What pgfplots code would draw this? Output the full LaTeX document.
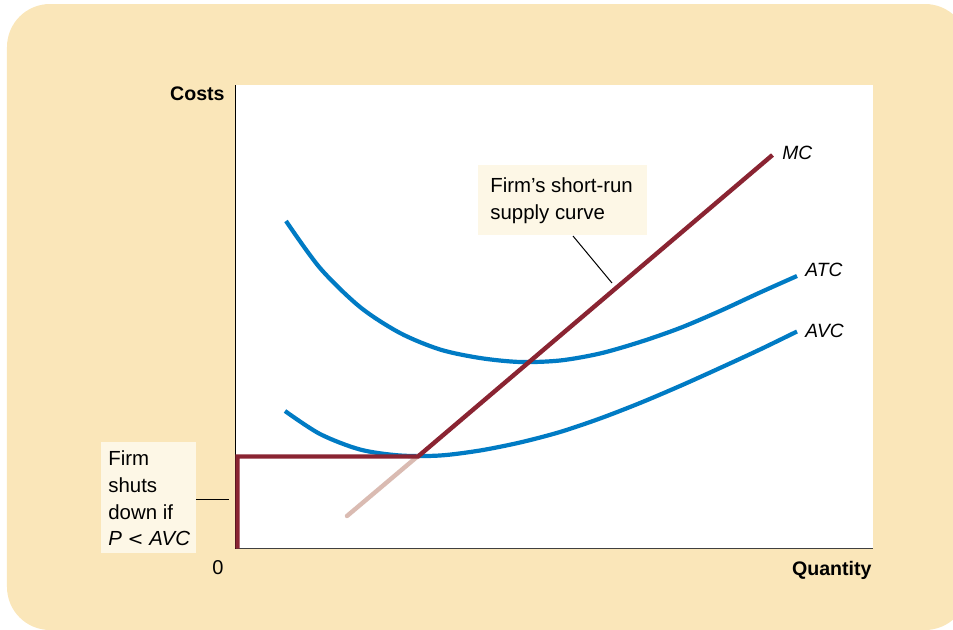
\documentclass[border=0pt]{standalone}
\usepackage{pgfplots}
\pgfplotsset{compat=1.18}
\usepackage{fontspec}
\setmainfont{Liberation Sans}
\definecolor{bgtan}{RGB}{250,230,185}
\definecolor{cream}{RGB}{253,247,230}
\definecolor{curveblue}{RGB}{0,123,196}
\definecolor{supred}{RGB}{138,36,50}
\definecolor{lightpink}{RGB}{218,187,178}
\begin{document}
\begin{tikzpicture}
\begin{axis}[
  set layers,
  x=0.5pt, y=0.5pt,
  xmin=235.5, xmax=872.5, ymin=80.5, ymax=544,
  axis x line*=bottom, axis y line*=left,
  axis line style={-, line width=0.6pt},
  x axis line style={black!75},
  y axis line style={black},
  xtick=\empty, ytick=\empty,
  clip=false,
]
\begin{pgfonlayer}{axis background}
  \begin{scope}
    \clip (axis cs:0,0) rectangle (axis cs:953,629);
    \fill[bgtan, rounded corners=21.5pt] (axis cs:7,-1) rectangle (axis cs:968,625);
  \end{scope}
  \fill[white] (axis cs:235.5,80.5) rectangle (axis cs:872.5,544);
\end{pgfonlayer}
\coordinate (BL) at (axis cs:0,0);
\coordinate (TR) at (axis cs:953,629);

% ATC
\addplot[curveblue, line width=2.1pt, smooth, tension=0.5] coordinates {
(286,408)(320,361)(360,322)(400,296)(440,279.5)(480,271)(520,267)(560,268.5)
(600,275.5)(640,287)(680,301)(720,318)(760,336.5)(797,353)};
% AVC
\addplot[curveblue, line width=2.1pt, smooth, tension=0.5] coordinates {
(285,218)(320,195)(360,179.5)(400,173.5)(440,173.5)(480,178.5)(520,186.5)(560,197)
(600,210.5)(640,226)(680,243)(720,261)(760,279.5)(797,297.5)};
% MC lower part
\addplot[lightpink, line width=2.2pt, line cap=round] coordinates {(347,113)(418,173)};
% supply curve
\addplot[supred, line width=2.2pt, line join=miter] coordinates {
(237.5,80.5)(237.5,172.5)(418,172.5)(772.5,474)};

% annotation: supply curve
\fill[cream] (axis cs:478,464) rectangle (axis cs:647,394);
\draw[black, line width=0.5pt] (axis cs:573,393) -- (axis cs:612,346);
\node[anchor=base west, inner sep=0pt, font=\fontsize{10.2}{12}\selectfont] at (axis cs:490,437) {Firm’s short-run};
\node[anchor=base west, inner sep=0pt, font=\fontsize{10.2}{12}\selectfont] at (axis cs:490,410) {supply curve};

% annotation: shut down
\fill[cream] (axis cs:101,187) rectangle (axis cs:196,76);
\draw[black, line width=0.5pt] (axis cs:196,130) -- (axis cs:229,130);
\node[anchor=base west, inner sep=0pt, font=\fontsize{10.2}{12}\selectfont] at (axis cs:108,164) {Firm};
\node[anchor=base west, inner sep=0pt, font=\fontsize{10.2}{12}\selectfont] at (axis cs:108,137) {shuts};
\node[anchor=base west, inner sep=0pt, font=\fontsize{10.2}{12}\selectfont] at (axis cs:108,110) {down if};
\node[anchor=base west, inner sep=0pt, font=\fontsize{10.2}{12}\selectfont] at (axis cs:108,84) {\textit{P} {\fontspec{DejaVu Sans}\fontsize{9.5}{12}\selectfont <} \textit{AVC}};

% curve labels
\node[anchor=base west, inner sep=0pt, font=\fontsize{9.6}{12}\selectfont\itshape] at (axis cs:782,470) {MC};
\node[anchor=base west, inner sep=0pt, font=\fontsize{9.6}{12}\selectfont\itshape] at (axis cs:805,353) {ATC};
\node[anchor=base west, inner sep=0pt, font=\fontsize{9.6}{12}\selectfont\itshape] at (axis cs:805,292) {AVC};

% axis labels
\node[anchor=base east, inner sep=0pt, font=\fontsize{9.8}{12}\selectfont\bfseries] at (axis cs:225,529) {Costs};
\node[anchor=base east, inner sep=0pt, font=\fontsize{9.8}{12}\selectfont\bfseries] at (axis cs:872,54) {Quantity};
\node[anchor=base, inner sep=0pt, font=\fontsize{10}{12}\selectfont] at (axis cs:218,55) {0};
\end{axis}
\pgfresetboundingbox
\path[use as bounding box] (BL) rectangle (TR);
\end{tikzpicture}
\end{document}
